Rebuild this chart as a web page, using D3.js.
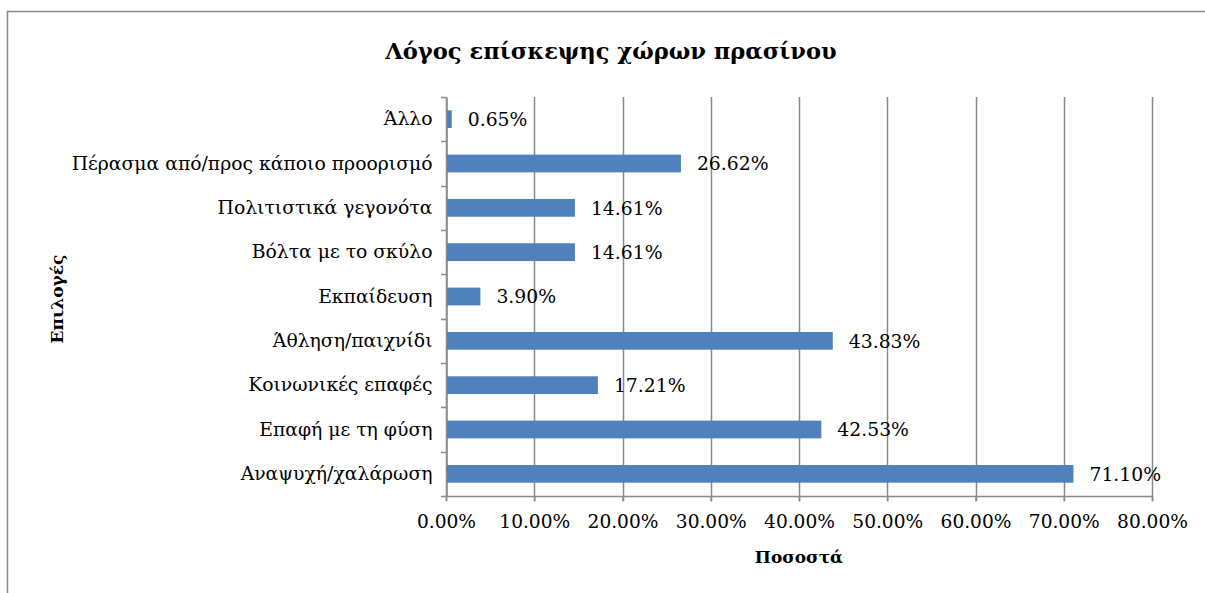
<!DOCTYPE html>
<html>
<head>
<meta charset="utf-8">
<script src="https://cdn.jsdelivr.net/npm/d3@7"></script>
<style>
  body { margin: 0; background: #fff; }
  svg { display: block; }
  text { font-family: "DejaVu Serif", serif; fill: #000; }
</style>
</head>
<body>
<svg id="chart" width="1205" height="593"></svg>
<script>
const categories = [
  "Αναψυχή/χαλάρωση",
  "Επαφή με τη φύση",
  "Κοινωνικές επαφές",
  "Άθληση/παιχνίδι",
  "Εκπαίδευση",
  "Βόλτα με το σκύλο",
  "Πολιτιστικά γεγονότα",
  "Πέρασμα από/προς κάποιο προορισμό",
  "Άλλο"
];
const values = [71.10, 42.53, 17.21, 43.83, 3.90, 14.61, 14.61, 26.62, 0.65];
const xTicks = [0, 10, 20, 30, 40, 50, 60, 70, 80];
const title = "Λόγος επίσκεψης χώρων πρασίνου";
const xTitle = "Ποσοστά";
const yTitle = "Επιλογές";

const svg = d3.select("#chart");
const W = 1205, H = 593;
const m = { left: 446, right: 1152, top: 97, bottom: 496 };

// outer border
svg.append("rect")
  .attr("x", 7.5).attr("y", 11.5)
  .attr("width", W + 20).attr("height", H + 20)
  .attr("fill", "#fff").attr("stroke", "#8c8c8c").attr("stroke-width", 1.5);

const x = d3.scaleLinear().domain([0, 80]).range([m.left, m.right]);
const y = d3.scaleBand()
  .domain(categories.slice().reverse())
  .range([m.top, m.bottom])
  .paddingInner(0.6).paddingOuter(0.3);
const yb = d3.scaleBand().domain(categories.slice().reverse()).range([m.top, m.bottom]);

// gridlines
svg.append("g").selectAll("line").data(xTicks).join("line")
  .attr("x1", d => Math.round(x(d)) + 0.5).attr("x2", d => Math.round(x(d)) + 0.5)
  .attr("y1", m.top).attr("y2", m.bottom + 5)
  .attr("stroke", "#8a8a8a").attr("stroke-width", 1.5);

// y axis
const yAxis = d3.axisLeft(yb).tickSize(0).tickPadding(14);
const gy = svg.append("g").attr("transform", `translate(${m.left + 0.5},0)`).call(yAxis);
gy.select(".domain").attr("stroke", "#8a8a8a").attr("stroke-width", 1.5);
gy.selectAll("text").style("font-size", "18.8px").attr("font-family", "DejaVu Serif");
// band boundary ticks
svg.append("g").selectAll("line").data(d3.range(categories.length + 1)).join("line")
  .attr("x1", m.left - 5).attr("x2", m.left)
  .attr("y1", i => Math.round(m.top + i * yb.step()) + 0.5)
  .attr("y2", i => Math.round(m.top + i * yb.step()) + 0.5)
  .attr("stroke", "#8a8a8a").attr("stroke-width", 1.5);

// x axis
const xAxis = d3.axisBottom(x).tickValues(xTicks).tickSize(5).tickPadding(13)
  .tickFormat(d => d.toFixed(2) + "%");
const gx = svg.append("g").attr("transform", `translate(0,${m.bottom + 0.5})`).call(xAxis);
gx.select(".domain").attr("d", `M${m.left},0H${m.right}`).attr("stroke", "#8a8a8a").attr("stroke-width", 1.5);
gx.selectAll(".tick line").attr("stroke", "#8a8a8a").attr("stroke-width", 1.5);
gx.selectAll("text").style("font-size", "18.6px").attr("font-family", "DejaVu Serif");

// bars
const data = categories.map((c, i) => ({ c, v: values[i] }));
svg.append("g").selectAll("rect").data(data).join("rect")
  .attr("x", m.left + 1)
  .attr("y", d => y(d.c))
  .attr("width", d => x(d.v) - m.left - 1)
  .attr("height", y.bandwidth())
  .attr("fill", "#4f81bd");

// value labels
svg.append("g").selectAll("text").data(data).join("text")
  .attr("x", d => x(d.v) + 16)
  .attr("y", d => y(d.c) + y.bandwidth() / 2)
  .attr("dy", "0.36em")
  .style("font-size", "18.8px")
  .text(d => d.v.toFixed(2) + "%");

// titles
svg.append("text").attr("x", 611).attr("y", 59)
  .attr("text-anchor", "middle").style("font-size", "22.6px").style("font-weight", "bold")
  .text(title);
svg.append("text").attr("x", 799).attr("y", 563)
  .attr("text-anchor", "middle").style("font-size", "17px").style("font-weight", "bold")
  .text(xTitle);
svg.append("text").attr("transform", "translate(63,299) rotate(-90)")
  .attr("text-anchor", "middle").style("font-size", "17px").style("font-weight", "bold")
  .text(yTitle);
</script>
</body>
</html>
